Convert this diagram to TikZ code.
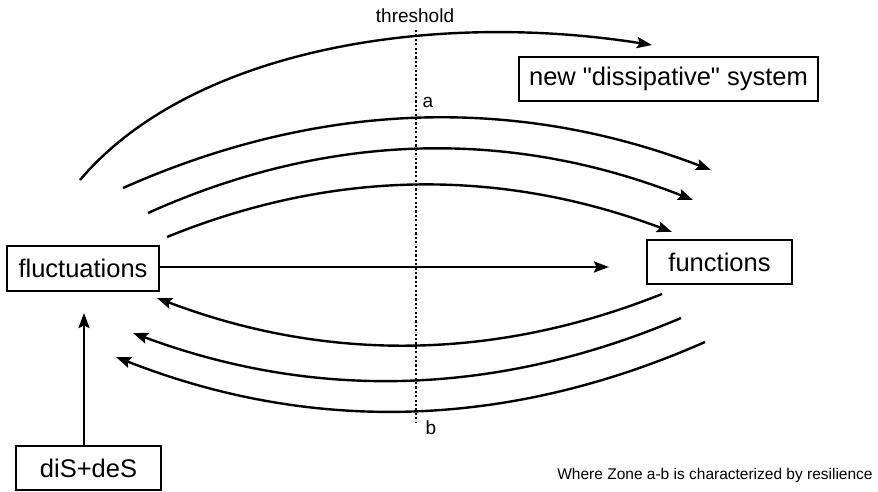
\documentclass[tikz,border=0pt]{standalone}
\usepackage{fontspec}
\setmainfont{Liberation Sans}[Ligatures=TeXOff]
\usetikzlibrary{arrows.meta}
\begin{document}
\begin{tikzpicture}[x=1pt,y=-1pt,
  box/.style={draw,line width=2pt,inner sep=0pt,font=\fontsize{25.5}{28}\selectfont},
  conn/.style={line width=2.4pt,-{Stealth[length=15pt,width=11pt,inset=2.5pt]}},
  thr/.style={line width=2.4pt,dash pattern=on 2.2pt off 2.2pt}]
\useasboundingbox (0,0) rectangle (878,492);
% boxes
\node[box,minimum width=152pt,minimum height=45pt] (fluct) at (83,268.5) {fluctuations};
\node[box,minimum width=145pt,minimum height=44pt] (func) at (719.5,262) {functions};
\node[box,minimum width=299pt,minimum height=44pt] (newsys) at (668.5,79) {new "dissipative" system};
\node[box,minimum width=145pt,minimum height=44pt] (dis) at (88.5,468) {diS+deS};
% labels
\node[font=\fontsize{19}{22}\selectfont] (thrlabel) at (415,16) {threshold};
\node[font=\fontsize{19}{22}\selectfont] (alab) at (428,102) {a};
\node[font=\fontsize{19}{22}\selectfont] (blab) at (431,428) {b};
\node[font=\fontsize{15.5}{18}\selectfont] (note) at (715,475) {Where Zone a-b is characterized by resilience};
% threshold line
\coordinate (thrtop) at (416,30);
\coordinate (thrbot) at (416,423);
\draw[thr] (thrtop) -- (thrbot);
% coordinates
\coordinate (s1) at (80,180);  \coordinate (e1) at (652,45);
\coordinate (s2) at (123,188); \coordinate (e2) at (711,170);
\coordinate (s3) at (148,213); \coordinate (e3) at (693,200);
\coordinate (s4) at (167,237); \coordinate (e4) at (672,232);
\coordinate (l1s) at (662,294); \coordinate (l1e) at (157,298);
\coordinate (l2s) at (681,318); \coordinate (l2e) at (133,333);
\coordinate (l3s) at (705,342); \coordinate (l3e) at (116,357);
\coordinate (htip) at (609,267);
\coordinate (vbase) at (84,446);
\coordinate (vtip) at (84,313);
% upper arcs
\draw[conn] (s1) .. controls (190,50) and (430,10) .. (e1);
\draw[conn] (s2) .. controls (319,101) and (515,95) .. (e2);
\draw[conn] (s3) .. controls (328,132) and (510,128) .. (e3);
\draw[conn] (s4) .. controls (334,169) and (501,168) .. (e4);
% lower arcs
\draw[conn] (l1s) .. controls (494,361) and (326,362) .. (l1e);
\draw[conn] (l2s) .. controls (498,396) and (316,401) .. (l2e);
\draw[conn] (l3s) .. controls (508,429) and (312,434) .. (l3e);
% straight arrows
\draw[conn] (fluct.east |- htip) -- (htip);
\draw[conn] (vbase) -- (vtip);
\end{tikzpicture}
\end{document}
